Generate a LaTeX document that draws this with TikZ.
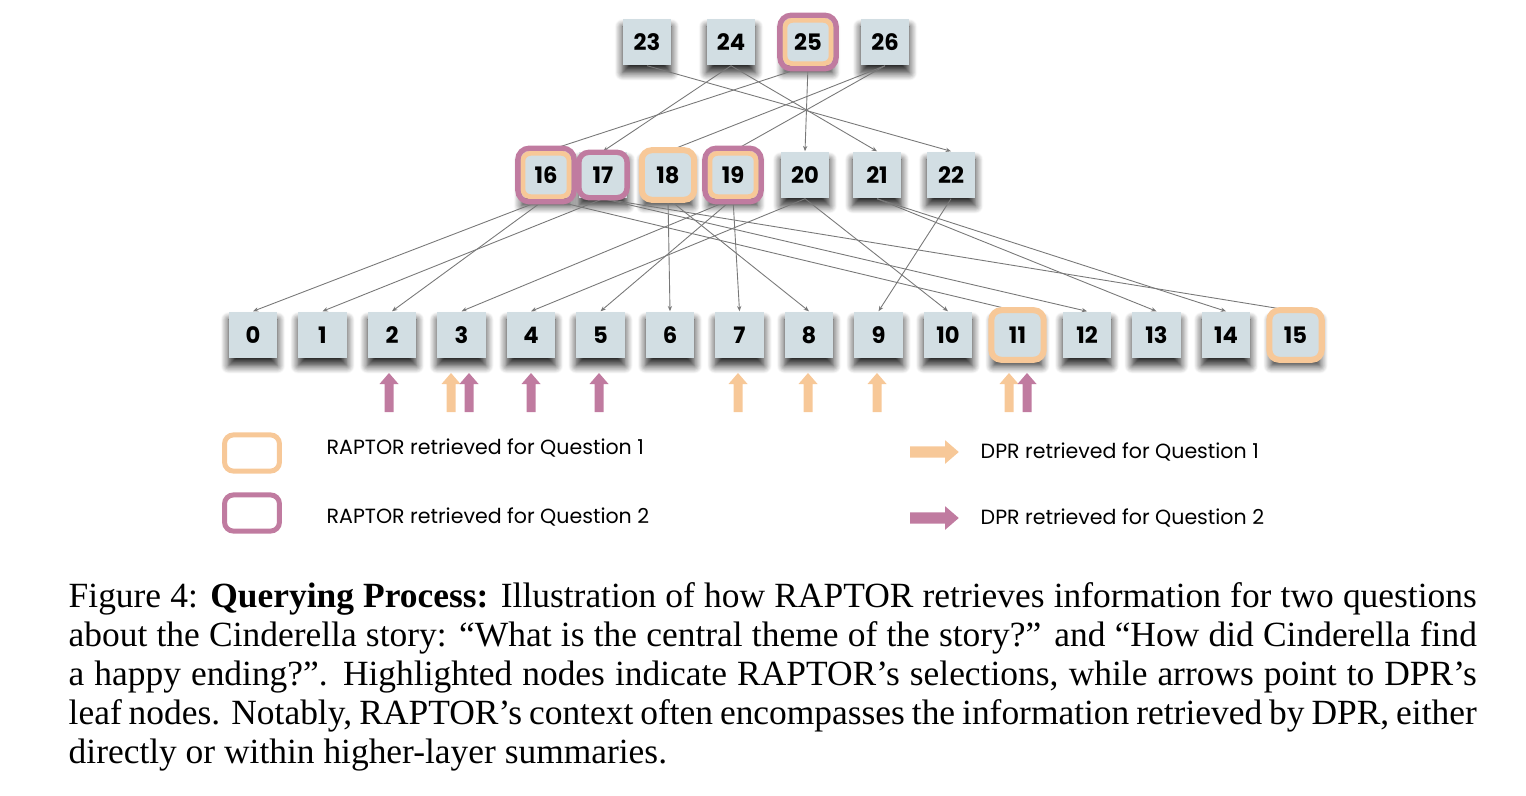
\documentclass[tikz,border=0pt]{standalone}
\usepackage{fontspec}
\setmainfont{Liberation Serif}
\newfontfamily\diagfont{Poppins}
\usepackage{tikz}
\usetikzlibrary{arrows.meta, shadows.blur, fit}
\definecolor{boxfill}{RGB}{210, 222, 227}
\definecolor{qone}{RGB}{247, 200, 152}
\definecolor{qtwo}{RGB}{192, 123, 160}
\definecolor{edgegray}{RGB}{120, 120, 120}

\tikzset{
  chunk/.style={fill=boxfill, minimum width=13.8pt, minimum height=13pt, inner sep=0pt,
    font=\diagfont\bfseries\fontsize{6.4}{7}\selectfont,
    blur shadow={shadow xshift=0pt, shadow yshift=-2.2pt, shadow blur radius=2.2pt,
      shadow blur steps=10, shadow opacity=85}},
  link/.style={draw=edgegray, line width=0.25pt, -{Stealth[length=1.5pt, width=1.2pt]}},
  ringone/.style={draw=qone, line width=1.7pt, rounded corners=2.8pt, inner sep=0.3pt},
  ringtwo/.style={draw=qtwo, line width=1.5pt, rounded corners=2.8pt, inner sep=-0.3pt},
  ringin/.style={draw=qone, line width=1.4pt, rounded corners=2.2pt, inner sep=-0.55pt},
  ringout/.style={draw=qtwo, line width=1.5pt, rounded corners=3.2pt, inner sep=0.85pt},
  keybox/.style={line width=1.4pt, rounded corners=2.5pt, minimum width=15.5pt,
    minimum height=10.2pt, inner sep=0pt},
  keytext/.style={anchor=west, inner sep=0pt, font=\diagfont\fontsize{5.8}{6.5}\selectfont},
  pics/blockarrow/.style={code={
    \fill[#1] (0,-4.5) -- (28,-4.5) -- (28,-9.5) -- (39,0) -- (28,9.5) -- (28,4.5)
      -- (0,4.5) -- cycle;}}
}

\begin{document}
\begin{tikzpicture}[x=0.2823pt, y=-0.2823pt]
  \useasboundingbox (0,0) rectangle (1526,795);

  % Leaf layer
  \foreach \i in {0,...,15}
    \node[chunk] (n\i) at ({253+69.5*\i}, 335) {\i};
  % Summary layer
  \foreach \i/\x in {16/546, 17/603, 18/668, 19/733, 20/805, 21/877, 22/951}
    \node[chunk] (n\i) at (\x, 175) {\i};
  % Root layer
  \foreach \i/\x in {23/647, 24/731, 25/808, 26/885}
    \node[chunk] (n\i) at (\x, 42) {\i};

  % Tree links
  \foreach \a/\b in {23/22, 24/17, 24/21, 25/16, 25/20, 26/18, 26/19,
                     16/0, 16/2, 16/11, 17/1, 17/12, 17/15, 18/6, 18/8,
                     19/3, 19/5, 19/7, 20/4, 20/10, 21/13, 21/14, 22/9}
    \draw[link] (n\a.south) -- (n\b.north);

  % RAPTOR selections
  \foreach \i in {18, 11, 15}
    \node[ringone, fit=(n\i)] (f\i) {};
  \node[ringtwo, fit=(n17)] (f17) {};
  \foreach \i in {16, 19, 25} {
    \node[ringin, fit=(n\i)] (g\i) {};
    \node[ringout, fit=(n\i)] (h\i) {};
  }

  % DPR retrievals
  \foreach \x/\c in {389/qtwo, 451/qone, 469/qtwo, 531/qtwo, 599/qtwo,
                     738/qone, 808/qone, 877/qone, 1009/qone, 1027/qtwo}
    \pic[rotate=90] at (\x, 412) {blockarrow=\c};

  % Legend
  \node[keybox, draw=qone] (k1) at (252, 453) {};
  \node[keybox, draw=qtwo] (k2) at (252, 513) {};
  \node[keytext] (t1) at (326, 448) {RAPTOR retrieved for Question 1};
  \node[keytext] (t2) at (326, 517) {RAPTOR retrieved for Question 2};
  \pic[scale=1.25] at (910, 452) {blockarrow=qone};
  \pic[scale=1.25] at (910, 518) {blockarrow=qtwo};
  \node[keytext] (t3) at (980, 452) {DPR retrieved for Question 1};
  \node[keytext] (t4) at (980, 518) {DPR retrieved for Question 2};

  % Caption
  \node[anchor=north west, text width=397.5pt, align=justify, inner sep=0pt,
        font=\fontsize{10}{11}\selectfont] (cap) at (68, 582)
    {Figure 4: \textbf{Querying Process:} Illustration of how RAPTOR retrieves information
     for two questions about the Cinderella story: “What is the central theme of the story?”
     and “How did Cinderella find a happy ending?”. Highlighted nodes indicate RAPTOR’s
     selections, while arrows point to DPR’s leaf nodes. Notably, RAPTOR’s context often
     encompasses the information retrieved by DPR, either directly or within higher-layer
     summaries.};
\end{tikzpicture}
\end{document}
